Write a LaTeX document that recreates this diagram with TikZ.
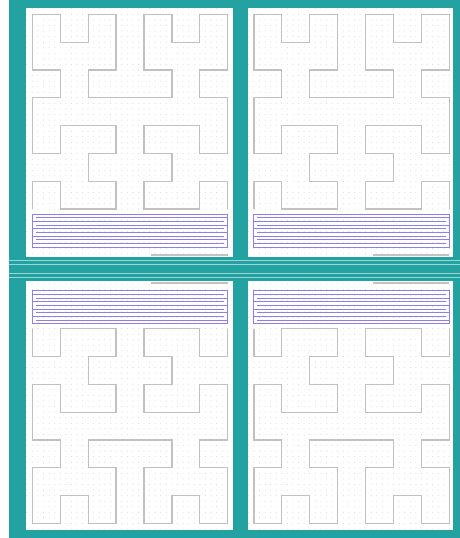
\documentclass[tikz,border=0pt]{standalone}
\definecolor{tealA}{RGB}{36,162,162}
\definecolor{tealL}{RGB}{150,215,212}
\definecolor{curvegray}{RGB}{196,192,192}
\definecolor{dotgray}{RGB}{205,205,212}
\definecolor{lineblue}{RGB}{138,130,232}
\definecolor{footgray}{RGB}{198,194,194}
\tikzset{
  hcurve/.style={draw=curvegray, line width=1.2pt, line join=miter},
  bluel/.style={draw=lineblue, line width=0.9pt},
  footl/.style={draw=footgray, line width=1.8pt},
  paper/.style={fill=white},
  stripe/.style={draw=tealL, line width=1.1pt}
}
\newcommand\panelstuff{%
  % dot grid
  \foreach \i in {-1,...,35}{\foreach \j in {-1,...,43}{%
    \fill[dotgray] (32.3+\i*5.586, 14.3+\j*5.57) circle (0.45);}}
  % hilbert curve
  \begin{scope}[shift={(32.3pt,-14.3pt)}, x=27.93pt, y=-27.81pt]
    \draw[hcurve] (0,7) -- (0,6) -- (1,6) -- (1,7) -- (2,7) -- (3,7) -- (3,6) -- (2,6) -- (2,5) -- (3,5) -- (3,4) -- (2,4) -- (1,4) -- (1,5) -- (0,5) -- (0,4)
      -- (0,3) -- (1,3) -- (1,2) -- (0,2) -- (0,1) -- (0,0) -- (1,0) -- (1,1) -- (2,1) -- (2,0) -- (3,0) -- (3,1) -- (3,2) -- (2,2) -- (2,3) -- (3,3)
      -- (4,3) -- (5,3) -- (5,2) -- (4,2) -- (4,1) -- (4,0) -- (5,0) -- (5,1) -- (6,1) -- (6,0) -- (7,0) -- (7,1) -- (7,2) -- (6,2) -- (6,3) -- (7,3)
      -- (7,4) -- (7,5) -- (6,5) -- (6,4) -- (5,4) -- (4,4) -- (4,5) -- (5,5) -- (5,6) -- (4,6) -- (4,7) -- (5,7) -- (6,7) -- (6,6) -- (7,6) -- (7,7);
  \end{scope}
  % blue ruled lines
  \draw[bluel] (32.3,214) -- (227.5,214) -- (227.5,217.7) -- (35.5,217.7);
  \draw[bluel] (32.3,214) -- (32.3,247.5) -- (227.5,247.5);
  \foreach \k in {1,...,4}{%
    \draw[bluel] (32.3,214+\k*7.35) -- (224.3,214+\k*7.35);
    \draw[bluel] (35.5,217.7+\k*7.35) -- (227.5,217.7+\k*7.35);}
  \draw[bluel] (227.5,214) -- (227.5,247.5);
  % footer line
  \draw[footl] (151,254.6) -- (227.5,254.6);
}
\begin{document}
\begin{tikzpicture}[x=1pt,y=-1pt]
\useasboundingbox (0,0) rectangle (460,538);
\fill[white] (0,0) rectangle (460,538);
\fill[tealA] (9,0) rectangle (460,538);
% four paper panels
\fill[paper] (25.5,7.5) rectangle (233.3,256.7);
\fill[paper] (248.3,7.5) rectangle (452.8,256.7);
\fill[paper] (25.5,281.1) rectangle (233.3,530.4);
\fill[paper] (248.3,281.1) rectangle (452.8,530.4);
% light stripes in the middle band
\draw[stripe] (9,260.2) -- (460,260.2);
\draw[stripe] (9,264.2) -- (460,264.2);
\draw[stripe] (9,273.5) -- (460,273.5);
\draw[stripe] (9,277.5) -- (460,277.5);
% panel contents
\begin{scope}\panelstuff\end{scope}
\begin{scope}[xshift=221.6pt]\panelstuff\end{scope}
\begin{scope}[yshift=-537.8pt, yscale=-1]\panelstuff\end{scope}
\begin{scope}[xshift=221.6pt, yshift=-537.8pt, yscale=-1]\panelstuff\end{scope}
\end{tikzpicture}
\end{document}
